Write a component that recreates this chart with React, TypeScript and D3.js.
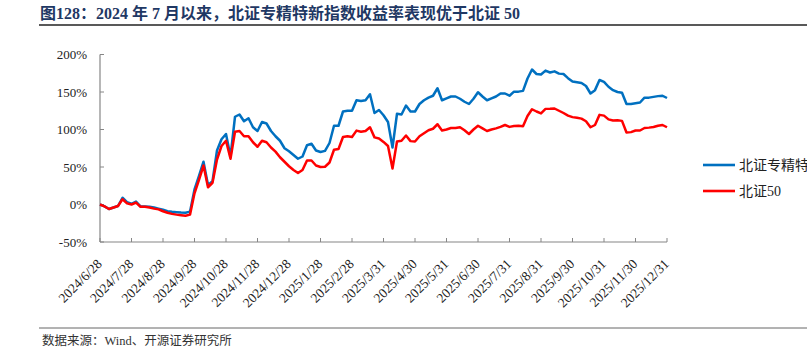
import React from 'react';
import * as d3 from 'd3';

// 北证专精特新 vs 北证50 cumulative return (%), sampled 7 points per tick interval
const tickLabels = [
  '2024/6/28', '2024/7/28', '2024/8/28', '2024/9/28', '2024/10/28', '2024/11/28',
  '2024/12/28', '2025/1/28', '2025/2/28', '2025/3/31', '2025/4/30', '2025/5/31',
  '2025/6/30', '2025/7/31', '2025/8/31', '2025/9/30', '2025/10/31', '2025/11/30', '2025/12/31',
];
const stepsPerTick = 7;

const zjtx = [
  0, -2.5, -6, -4, -2, 9, 3, 1, 4, -2.5,
  -2.5, -3, -4, -5.5, -7, -9, -9.7, -10.2, -10.8, -11,
  -9.5, 20, 38, 57, 26, 31, 72, 87, 94, 64,
  117, 120, 111, 115, 103, 98, 110, 108, 98, 91,
  85, 75, 71, 66, 61, 64, 79, 81, 72, 70,
  71.5, 82, 105, 105, 124, 125, 125, 139, 138, 139,
  147, 122, 126, 119, 110, 76, 121, 120, 132, 124,
  124, 134, 139, 142.5, 145, 155, 139, 141.5, 144, 144,
  141, 137, 134, 141, 149.7, 144, 139, 141.5, 144, 148,
  148, 145, 150.5, 150.5, 151.5, 168, 180, 174, 173.3, 178.5,
  176, 177.5, 174.5, 174, 168.5, 164, 163, 162, 158, 148,
  152.5, 166, 163.5, 157, 152.5, 150, 149, 134, 134, 135,
  136, 142.5, 142.5, 143.5, 144.5, 145, 142,
];

const bz50 = [
  0, -2.5, -6, -4, -2, 7, 1.5, 0, 2.5, -3,
  -3, -4, -5.5, -6.5, -9, -11, -12.5, -13.5, -14.2, -15,
  -13.5, 15, 33, 52, 23, 29, 60, 78, 85, 61,
  97, 98, 91, 91, 83, 77, 85, 83, 76, 70.5,
  63, 57, 51, 46, 42, 46, 58.7, 58.7, 52, 50,
  50.3, 56, 73, 74, 90, 91, 90, 98.5, 97, 98,
  103, 89.5, 88, 83.5, 78, 48, 84, 85, 92, 84.5,
  84, 91, 95, 99, 101, 107, 98.7, 100, 102, 102,
  103, 99, 94, 100, 105, 101.5, 98, 100, 101.5, 103.5,
  106, 103.5, 104.7, 105, 104.3, 118, 127, 124, 121.5, 127.5,
  127.6, 128, 125, 122, 118.5, 116.5, 115.6, 114.5, 111, 103,
  106, 119.5, 118.5, 113.5, 112, 112.3, 111.5, 96, 96.5, 98.7,
  98.7, 102, 102.5, 103.3, 105, 106, 103,
];

const yTicks = [-50, 0, 50, 100, 150, 200];

const seriesNames = ['北证专精特新指数', '北证50'];
const seriesColors = ['#0070C0', '#FF0000'];

const W = 807;
const H = 353;
const serif = '"Times New Roman", "Liberation Serif", "Noto Sans CJK SC", serif';

export default function App() {
  const n = zjtx.length - 1;
  const x = d3.scaleLinear().domain([0, n]).range([100, 667]);
  const y = d3.scaleLinear().domain([-50, 200]).range([242, 54.5]);

  const line = d3
    .line<number>()
    .x((_, i) => x(i))
    .y((d) => y(d))
    .curve(d3.curveLinear);

  const series = [zjtx, bz50];

  return (
    <svg
      width={W}
      height={H}
      style={{ position: 'absolute', left: 0, top: 0, background: '#fff' }}
    >
      {/* title */}
      <text
        x={40}
        y={19}
        fontFamily={serif}
        fontWeight="bold"
        fontSize={16}
        fill="#1F3864"
      >
        图128：2024 年 7 月以来，北证专精特新指数收益率表现优于北证 50
      </text>
      <line x1={39} x2={W} y1={25} y2={25} stroke="#222" strokeWidth={1.5} />

      {/* y axis */}
      <line x1={100} x2={100} y1={y(200)} y2={y(-50)} stroke="#868686" strokeWidth={1.2} />
      {yTicks.map((t) => (
        <g key={t}>
          <line x1={100} x2={104} y1={y(t)} y2={y(t)} stroke="#868686" />
          <text
            x={87}
            y={y(t)}
            dy="0.35em"
            textAnchor="end"
            fontFamily={serif}
            fontSize={13}
            fill="#222"
          >
            {t}%
          </text>
        </g>
      ))}

      {/* x axis */}
      <line x1={100} x2={667} y1={y(-50)} y2={y(-50)} stroke="#868686" strokeWidth={1.2} />
      {tickLabels.map((lab, j) => {
        const tx = x(j * stepsPerTick);
        return (
          <g key={lab}>
            <line x1={tx} x2={tx} y1={y(-50)} y2={y(-50) - 4} stroke="#868686" />
            <text
              transform={`translate(${tx - 4},${y(-50) + 16}) rotate(-45)`}
              textAnchor="end"
              dy="0.7em"
              fontFamily={serif}
              fontSize={13.5}
              fill="#222"
            >
              {lab}
            </text>
          </g>
        );
      })}

      {/* lines */}
      {series.map((s, k) => (
        <path
          key={seriesNames[k]}
          d={line(s) || ''}
          fill="none"
          stroke={seriesColors[k]}
          strokeWidth={2.5}
          strokeLinejoin="round"
        />
      ))}

      {/* legend */}
      {seriesNames.map((name, k) => (
        <g key={name} transform={`translate(703,${165 + k * 26})`}>
          <line x1={0} x2={32} y1={0} y2={0} stroke={seriesColors[k]} strokeWidth={2.6} />
          <text x={36} y={0} dy="0.35em" fontFamily={serif} fontSize={14} fill="#222">
            {name}
          </text>
        </g>
      ))}

      {/* footer */}
      <line x1={39} x2={W} y1={328} y2={328} stroke="#666" strokeWidth={1} />
      <text x={42} y={345} fontFamily={serif} fontSize={12.5} fill="#333">
        数据来源：Wind、开源证券研究所
      </text>
    </svg>
  );
}
